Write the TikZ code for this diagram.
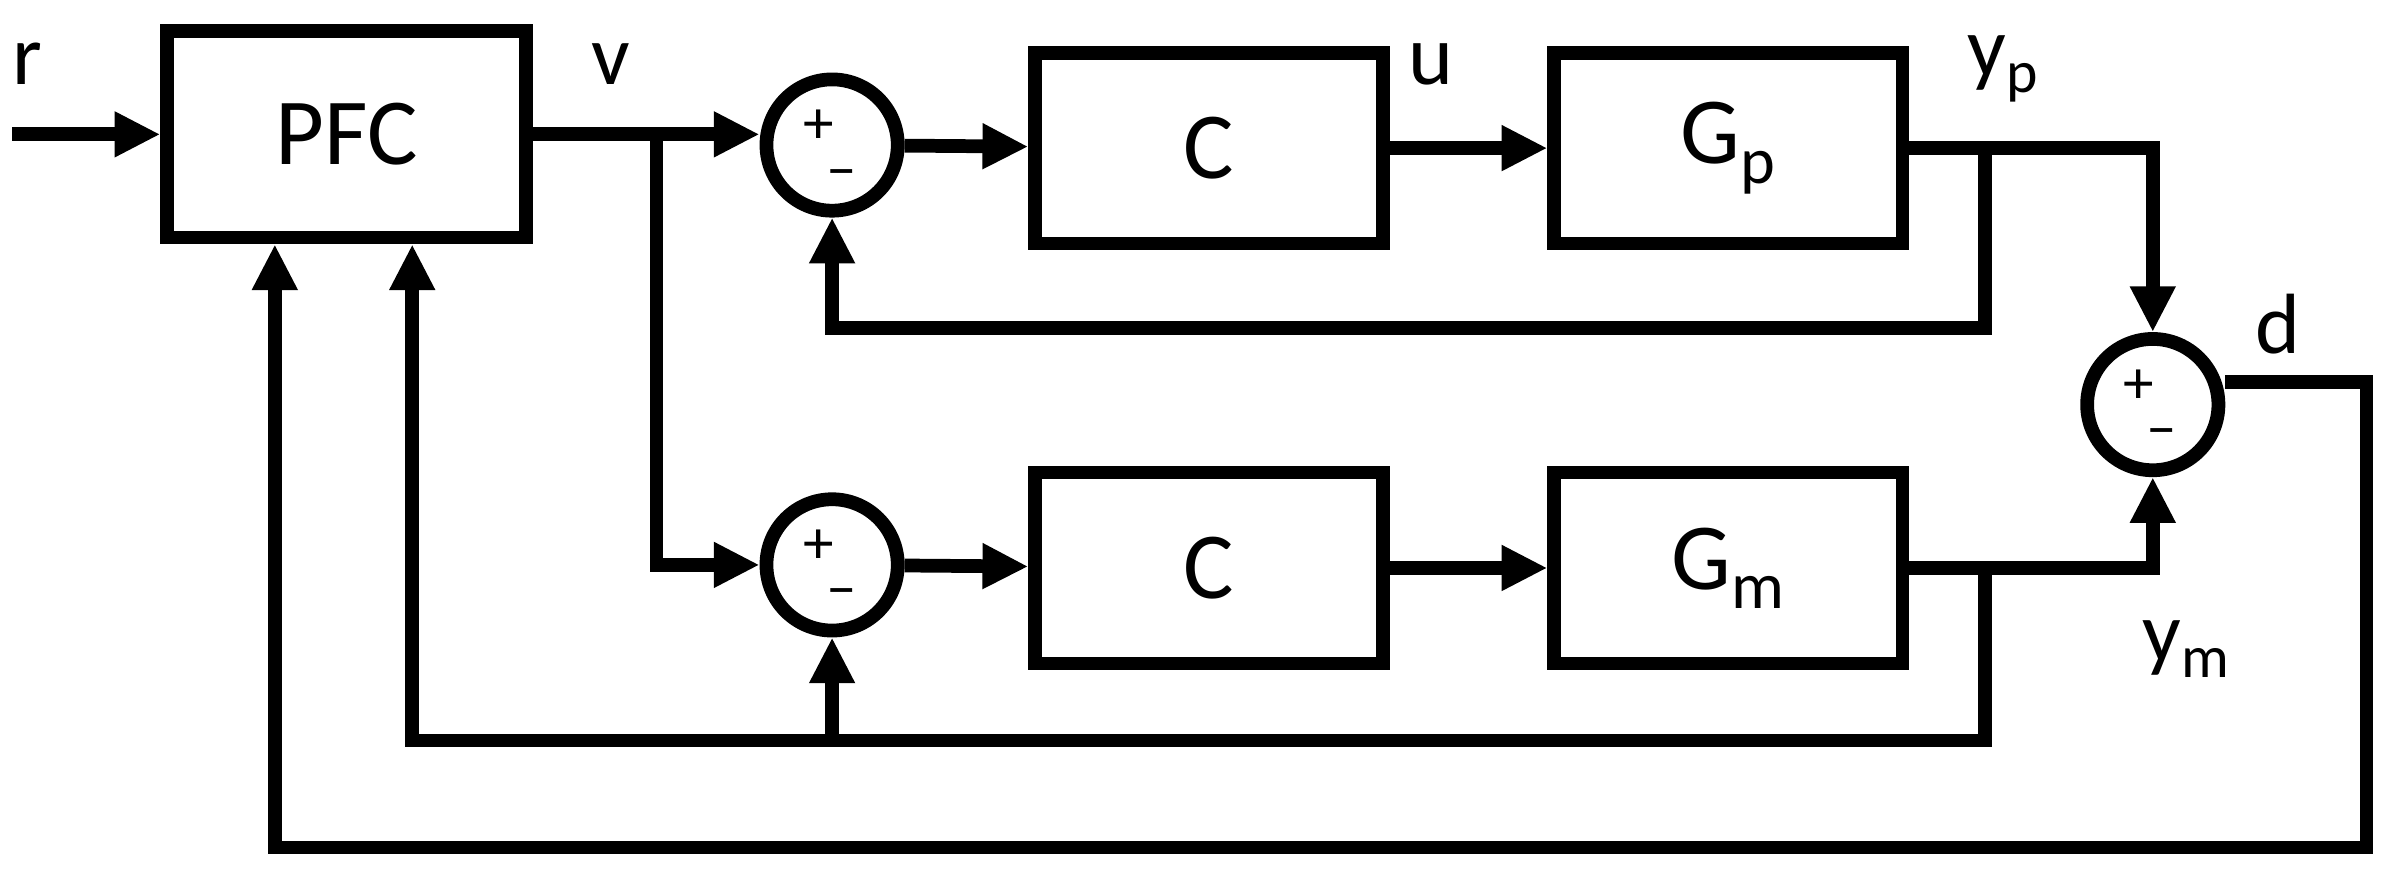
\documentclass[tikz,border=0pt]{standalone}
\usepackage{fontspec}
\setmainfont{Carlito}
\usetikzlibrary{arrows.meta,positioning}

\begin{document}
\begin{tikzpicture}[x=1pt,y=-1pt,line width=9pt,
  >={Triangle[length=30pt,width=28pt]},
  block/.style={draw,minimum width=228pt,minimum height=125pt,font=\fontsize{62}{70}\selectfont},
  sum/.style={draw,circle,minimum size=86pt,inner sep=0pt},
  sign/.style={font=\fontsize{40}{44}\selectfont,inner sep=0pt},
  lbl/.style={font=\fontsize{56}{62}\selectfont,inner sep=0pt}]
  \useasboundingbox (0,0) rectangle (1568,577);

  \node[block,minimum width=235pt,minimum height=135pt] (pfc) at (227,88) {PFC};
  \node[sum]   (s1) at (545,95)  {};
  \node[block] (c1) at (792,97)  {C};
  \node[block] (gp) at (1132,97) {G\textsubscript{p}};
  \node[sum]   (s2) at (545,370) {};
  \node[block] (c2) at (792,372) {C};
  \node[block] (gm) at (1132,372) {G\textsubscript{m}};
  \node[sum]   (s3) at (1410,265) {};

  % signs
  \foreach \s in {s1,s2,s3} {
    \node[sign] at ([xshift=-9pt,yshift=12pt]\s.center) {+};
    \node[sign] at ([xshift=6pt,yshift=-22pt]\s.center) {\textendash};
  }

  \coordinate (in) at (8,88);
  \coordinate (vb) at (430,88);
  \coordinate (yb) at (1300,97);
  \coordinate (mb) at (1300,372);

  % labels
  \node[lbl] at (18,42)   {r};
  \node[lbl] at (400,42)  {v};
  \node[lbl] at (937,42)  {u};
  \node[lbl] at (1312,45) {y\textsubscript{p}};
  \node[lbl] at (1492,212) {d};
  \node[lbl] at (1432,425) {y\textsubscript{m}};

  \draw[->] (in) -- (pfc.west |- in);
  \draw[->] (pfc.east |- vb) -- (vb) -- (s1.west |- vb);
  \draw[->] (vb) |- (s2.west);
  \draw[->] (s1) -- (c1);
  \draw[->] (c1) -- (gp);
  \draw[->] (s2) -- (c2);
  \draw[->] (c2) -- (gm);
  \draw[->] (gp) -| (s3.north);
  \draw[->] (gm) -| (s3.south);
  \draw[->] (yb) |- (545,215) -- (s1.south);
  \draw[->] (mb) |- (270,485) -- (pfc.south -| 270,0);
  \draw[->] (545,485) -- (s2.south);
  \draw[->] (s3.east |- 0,250) -| (1550,555) -| (pfc.south -| 180,0);
\end{tikzpicture}
\end{document}
